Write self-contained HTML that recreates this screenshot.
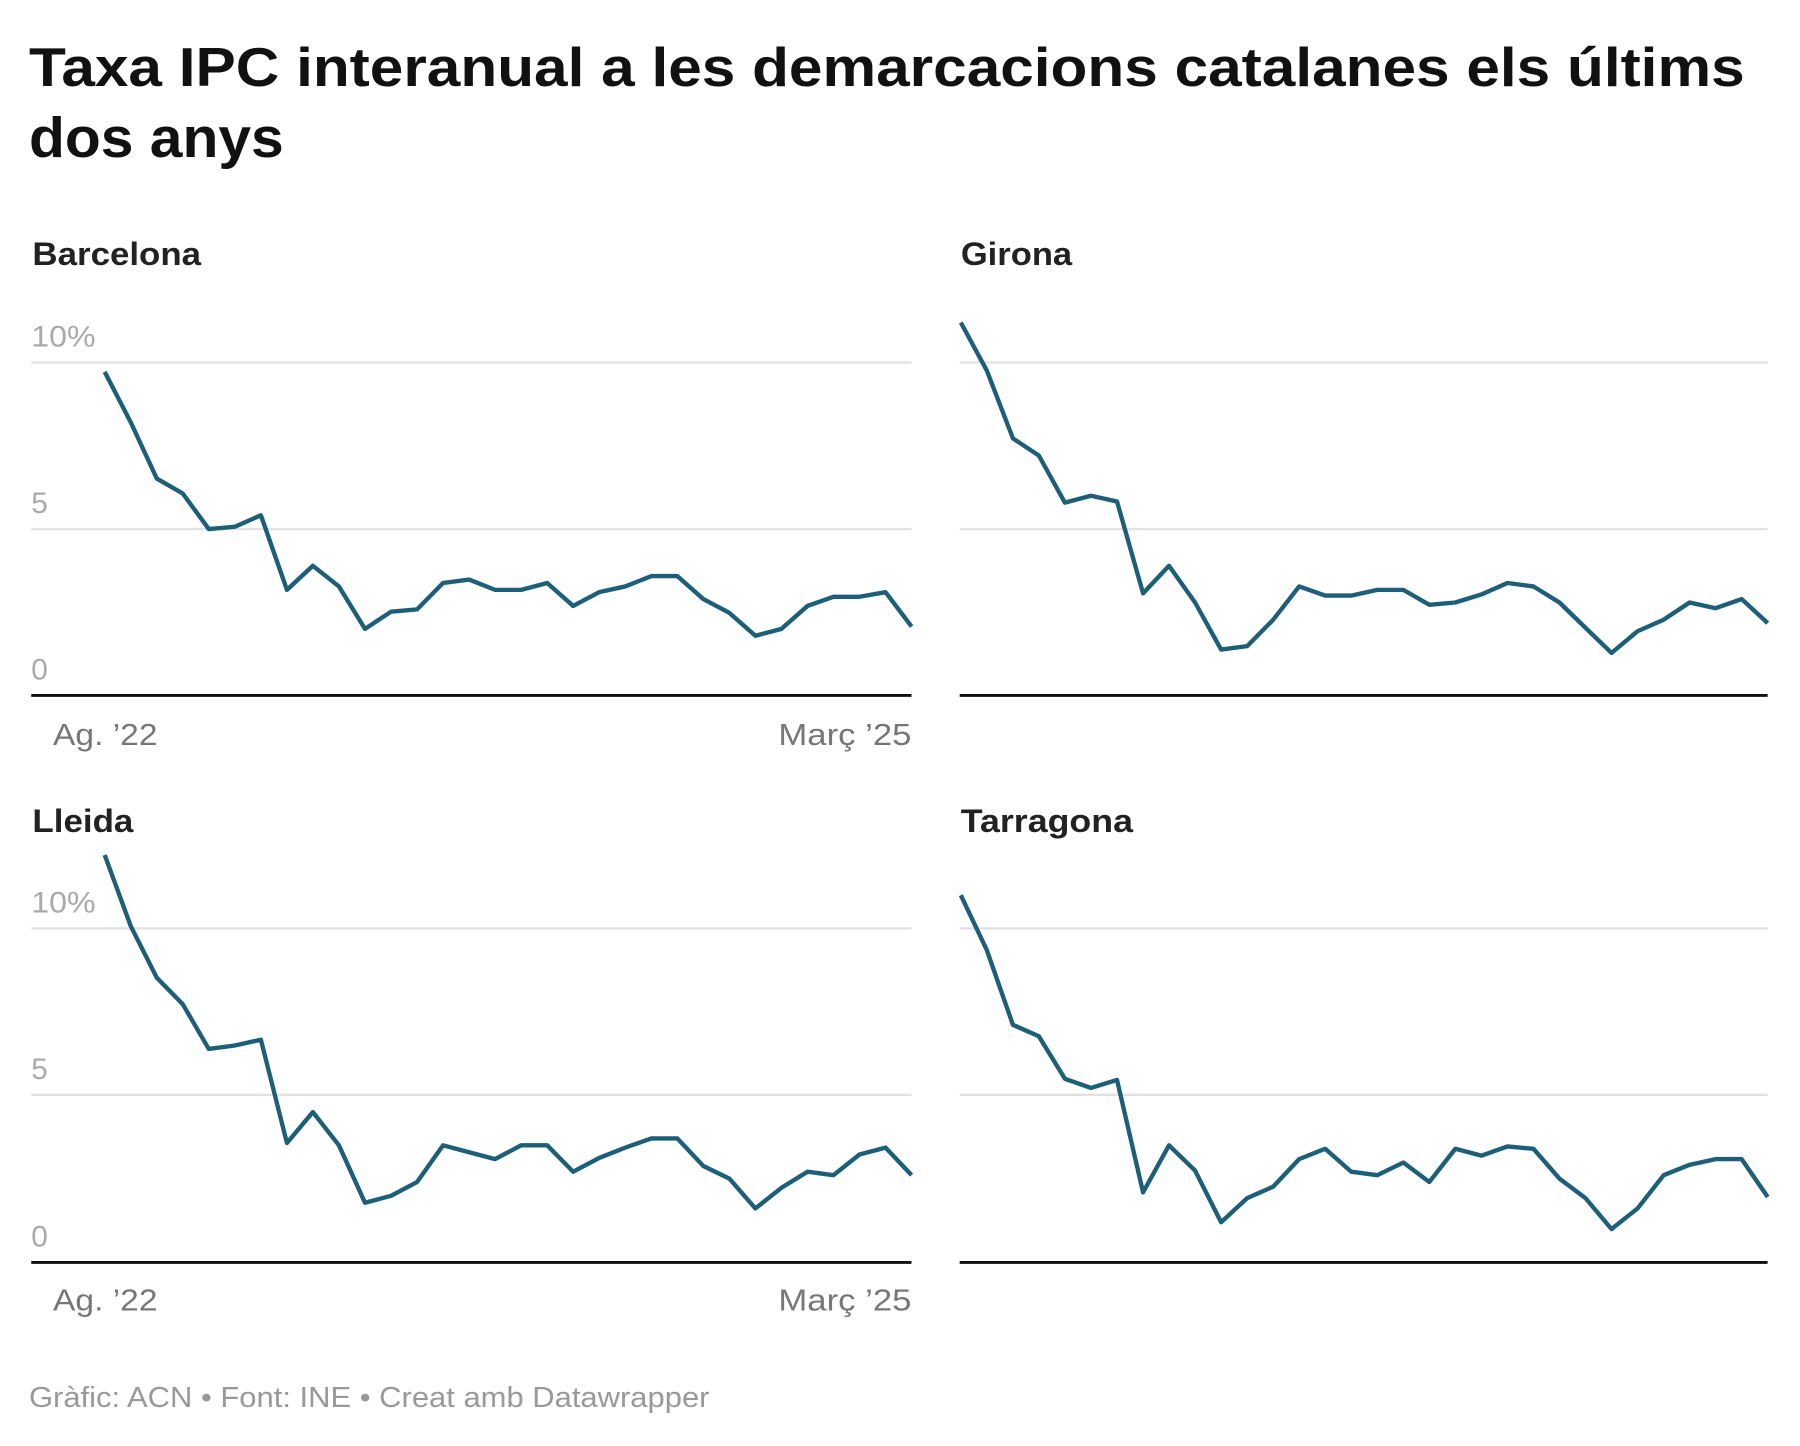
<!DOCTYPE html>
<html><head><meta charset="utf-8"><style>
html,body{margin:0;padding:0;background:#fff;}
svg{display:block;}
text{font-family:"Liberation Sans",sans-serif;}
</style></head><body>
<svg width="1800" height="1446" viewBox="0 0 1568 1260" xmlns="http://www.w3.org/2000/svg">
<text x="25" y="75" font-size="48" font-weight="bold" fill="#111" textLength="1495" lengthAdjust="spacingAndGlyphs">Taxa IPC interanual a les demarcacions catalanes els últims</text>
<text x="25" y="137" font-size="49" font-weight="bold" fill="#111" textLength="222" lengthAdjust="spacingAndGlyphs">dos anys</text>

<g font-size="28" font-weight="bold" fill="#222">
<text x="28" y="231" textLength="147" lengthAdjust="spacingAndGlyphs">Barcelona</text>
<text x="837" y="231" textLength="97" lengthAdjust="spacingAndGlyphs">Girona</text>
<text x="28" y="725" textLength="88" lengthAdjust="spacingAndGlyphs">Lleida</text>
<text x="837" y="725" textLength="150" lengthAdjust="spacingAndGlyphs">Tarragona</text>
</g>

<g stroke="#e2e2e2" stroke-width="2">
<line x1="27" y1="316" x2="794" y2="316"/><line x1="27" y1="461" x2="794" y2="461"/>
<line x1="836" y1="316" x2="1540" y2="316"/><line x1="836" y1="461" x2="1540" y2="461"/>
<line x1="27" y1="809" x2="794" y2="809"/><line x1="27" y1="954" x2="794" y2="954"/>
<line x1="836" y1="809" x2="1540" y2="809"/><line x1="836" y1="954" x2="1540" y2="954"/>
</g>
<g stroke="#111" stroke-width="2.5">
<line x1="27" y1="606" x2="794" y2="606"/><line x1="836" y1="606" x2="1540" y2="606"/>
<line x1="27" y1="1100" x2="794" y2="1100"/><line x1="836" y1="1100" x2="1540" y2="1100"/>
</g>
<g font-size="26" fill="#aaa">
<text x="27" y="302" textLength="56" lengthAdjust="spacingAndGlyphs">10%</text><text x="27" y="447">5</text><text x="27" y="592">0</text>
<text x="27" y="795" textLength="56" lengthAdjust="spacingAndGlyphs">10%</text><text x="27" y="940">5</text><text x="27" y="1086">0</text>
</g>
<g font-size="27" fill="#777">
<text x="46" y="649" textLength="91" lengthAdjust="spacingAndGlyphs">Ag. ’22</text><text x="678" y="649" textLength="116" lengthAdjust="spacingAndGlyphs">Març ’25</text>
<text x="46" y="1142" textLength="91" lengthAdjust="spacingAndGlyphs">Ag. ’22</text><text x="678" y="1142" textLength="116" lengthAdjust="spacingAndGlyphs">Març ’25</text>
</g>
<text x="25" y="1226" font-size="25" fill="#999" textLength="593" lengthAdjust="spacingAndGlyphs">Gràfic: ACN • Font: INE • Creat amb Datawrapper</text>

<g fill="none" stroke="#1d5f78" stroke-width="3.8" stroke-linejoin="round">
<polyline id="bcn" points=""/>
<polyline id="gir" points=""/>
<polyline id="lle" points=""/>
<polyline id="tar" points=""/>
</g>
</svg>
<script>
function pts(x0,ys){var s=22.68;return ys.map(function(y,i){return (x0+i*s).toFixed(1)+","+y}).join(" ");}
document.getElementById("bcn").setAttribute("points",pts(91,[324,368,417,430,461,459,449,514,493,511,548,533,531,508,505,514,514,508,528,516,511,502,502,522,534,554,548,528,520,520,516,546]));
document.getElementById("gir").setAttribute("points",pts(837,[281,323,382,397,438,432,437,517,493,525,566,563,540,511,519,519,514,514,527,525,518,508,511,525,547,569,550,540,525,530,522,543]));
document.getElementById("lle").setAttribute("points",pts(91,[745,807,852,875,914,911,906,996,969,998,1048,1042,1030,998,1004,1010,998,998,1021,1009,1000,992,992,1016,1027,1053,1035,1021,1024,1006,1000,1024]));
document.getElementById("tar").setAttribute("points",pts(837,[780,828,893,903,940,948,941,1039,998,1020,1065,1044,1034,1010,1001,1021,1024,1013,1030,1001,1007,999,1001,1027,1044,1071,1053,1024,1015,1010,1010,1043]));
</script>
</body></html>
